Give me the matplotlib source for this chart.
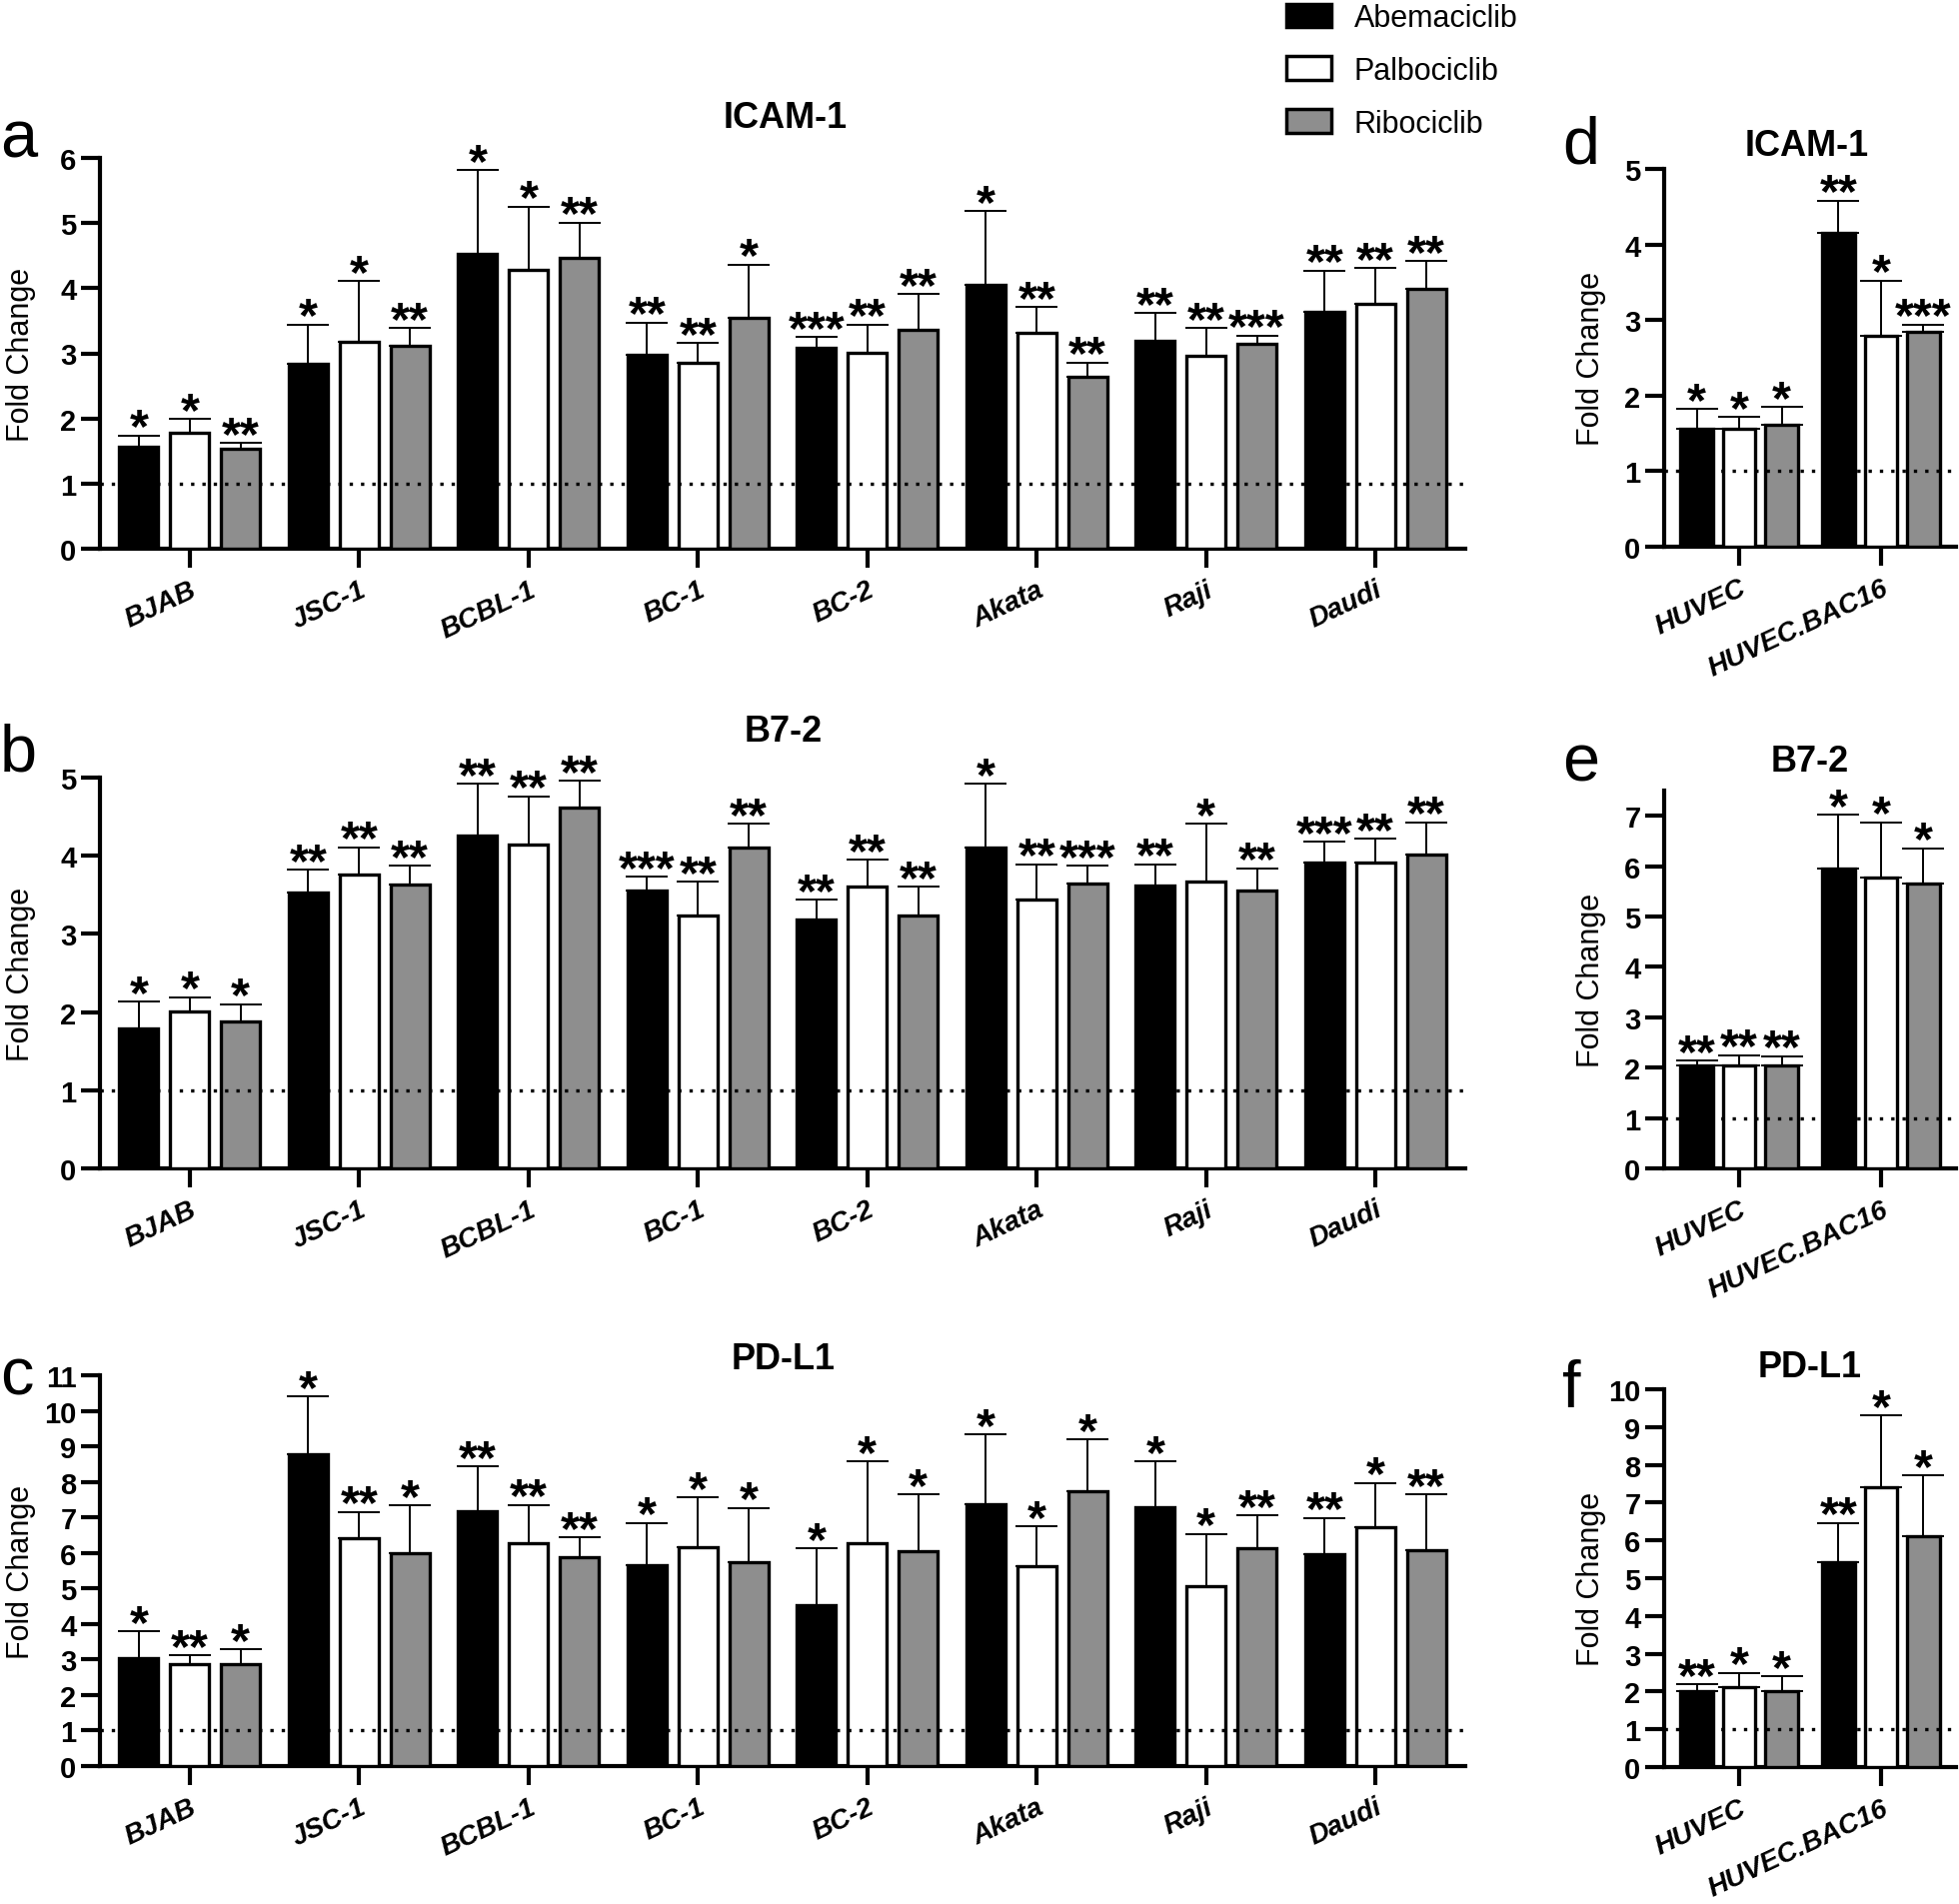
import matplotlib
matplotlib.use('Agg')
import matplotlib.pyplot as plt
import numpy as np
from matplotlib.patches import Patch

plt.rcParams['font.family'] = ['Liberation Sans', 'DejaVu Sans']

W, H = 1960, 1906

drugs = ['Abemaciclib', 'Palbociclib', 'Ribociclib']
bar_colors = ['black', 'white', '#8e8e8e']

b_cells = ['BJAB', 'JSC-1', 'BCBL-1', 'BC-1', 'BC-2', 'Akata', 'Raji', 'Daudi']
endo_cells = ['HUVEC', 'HUVEC.BAC16']

# a: ICAM-1, B cell lines (rows = Abemaciclib, Palbociclib, Ribociclib)
icam_b_mean = [[1.56, 2.84, 4.52, 2.98, 3.08, 4.05, 3.19, 3.64],
               [1.78, 3.17, 4.28, 2.86, 3.01, 3.31, 2.96, 3.76],
               [1.54, 3.12, 4.46, 3.54, 3.36, 2.64, 3.14, 3.99]]
icam_b_err = [[0.18, 0.60, 1.29, 0.49, 0.17, 1.13, 0.43, 0.63],
              [0.21, 0.94, 0.97, 0.30, 0.43, 0.40, 0.43, 0.55],
              [0.08, 0.27, 0.55, 0.82, 0.55, 0.22, 0.13, 0.43]]
icam_b_sig = [['*', '*', '*', '**', '***', '*', '**', '**'],
              ['*', '*', '*', '**', '**', '**', '**', '**'],
              ['**', '**', '**', '*', '**', '**', '***', '**']]

# b: B7-2, B cell lines
b72_b_mean = [[1.79, 3.53, 4.26, 3.56, 3.18, 4.10, 3.62, 3.91],
              [2.01, 3.76, 4.14, 3.24, 3.61, 3.44, 3.67, 3.91],
              [1.88, 3.63, 4.62, 4.11, 3.23, 3.65, 3.55, 4.01]]
b72_b_err = [[0.34, 0.29, 0.66, 0.17, 0.26, 0.82, 0.27, 0.27],
             [0.18, 0.35, 0.62, 0.43, 0.34, 0.45, 0.74, 0.31],
             [0.22, 0.24, 0.34, 0.30, 0.37, 0.22, 0.29, 0.42]]
b72_b_sig = [['*', '**', '**', '***', '**', '*', '**', '***'],
             ['*', '**', '**', '**', '**', '**', '*', '**'],
             ['*', '**', '**', '**', '**', '***', '**', '**']]

# c: PD-L1, B cell lines
pdl1_b_mean = [[3.03, 8.79, 7.17, 5.65, 4.54, 7.37, 7.30, 5.97],
               [2.88, 6.42, 6.27, 6.17, 6.27, 5.64, 5.06, 6.73],
               [2.88, 5.99, 5.88, 5.73, 6.04, 7.74, 6.12, 6.08]]
pdl1_b_err = [[0.76, 1.61, 1.26, 1.20, 1.58, 1.96, 1.28, 1.02],
              [0.24, 0.73, 1.08, 1.39, 2.31, 1.11, 1.47, 1.24],
              [0.40, 1.34, 0.55, 1.53, 1.61, 1.46, 0.94, 1.56]]
pdl1_b_sig = [['*', '*', '**', '*', '*', '*', '*', '**'],
              ['**', '**', '**', '*', '*', '*', '*', '*'],
              ['*', '*', '**', '*', '*', '*', '**', '**']]

# d: ICAM-1, endothelial cells
icam_e_mean = [[1.56, 4.15], [1.56, 2.79], [1.62, 2.84]]
icam_e_err = [[0.26, 0.43], [0.16, 0.73], [0.23, 0.10]]
icam_e_sig = [['*', '**'], ['*', '*'], ['*', '***']]

# e: B7-2, endothelial cells
b72_e_mean = [[2.05, 5.96], [2.05, 5.77], [2.05, 5.66]]
b72_e_err = [[0.09, 1.06], [0.20, 1.10], [0.18, 0.69]]
b72_e_sig = [['**', '*'], ['**', '*'], ['**', '*']]

# f: PD-L1, endothelial cells
pdl1_e_mean = [[2.01, 5.42], [2.11, 7.42], [2.01, 6.12]]
pdl1_e_err = [[0.18, 1.04], [0.39, 1.88], [0.39, 1.60]]
pdl1_e_sig = [['**', '**'], ['*', '*'], ['*', '*']]


def px_rect(left, top, right, bottom):
    return [left / W, 1 - bottom / H, (right - left) / W, (bottom - top) / H]


def fig_text(fig, x, y, s, **kw):
    fig.text(x / W, 1 - y / H, s, **kw)


def draw_panel(fig, rect, cells, means, errs, sigs, ymax, yticks, label_x):
    ax = fig.add_axes(rect)
    x = np.arange(len(cells))
    for k in range(3):
        xs = x + (k - 1) * 0.3
        m = np.array(means[k])
        e = np.array(errs[k])
        ax.errorbar(xs, m, yerr=[np.zeros_like(e), e], fmt='none', ecolor='black',
                    elinewidth=1.4, capsize=15, capthick=1.4, zorder=2)
        ax.bar(xs, m, width=0.23, color=bar_colors[k], edgecolor='black',
               linewidth=2.4, zorder=3)
        for xi, top, s in zip(xs, m + e, sigs[k]):
            ax.annotate(s, (xi, top), xytext=(0, -4), textcoords='offset points',
                        ha='center', va='baseline', fontsize=35, fontweight='bold',
                        zorder=6)
    ax.axhline(1, color='black', lw=2.4, ls=(0, (1, 2.4)), zorder=5)
    ax.set_xlim(-0.53, len(cells) - 1 + 0.53)
    ax.set_ylim(0, ymax)
    ax.set_yticks(yticks)
    ax.set_xticks(x)
    ax.set_xticklabels(cells, rotation=25, ha='right', va='top',
                       rotation_mode='anchor', fontsize=20, fontweight='bold',
                       fontstyle='italic')
    for t in ax.get_yticklabels():
        t.set_fontweight('bold')
        t.set_fontsize(21)
    for side in ['top', 'right']:
        ax.spines[side].set_visible(False)
    for side in ['left', 'bottom']:
        ax.spines[side].set_linewidth(3.0)
    ax.tick_params(axis='y', length=14, width=3.0, pad=3)
    ax.tick_params(axis='x', length=14, width=3.0, pad=6)
    ax.set_ylabel('Fold Change', fontsize=22)
    ax.yaxis.set_label_coords(label_x, 0.5)
    return ax


fig = plt.figure(figsize=(W / 100, H / 100), dpi=100)

draw_panel(fig, px_rect(100, 159, 1466, 550), b_cells, icam_b_mean, icam_b_err,
           icam_b_sig, 6, range(0, 7), -0.047)
draw_panel(fig, px_rect(100, 779, 1466, 1170), b_cells, b72_b_mean, b72_b_err,
           b72_b_sig, 5, range(0, 6), -0.047)
draw_panel(fig, px_rect(100, 1377, 1466, 1768), b_cells, pdl1_b_mean, pdl1_b_err,
           pdl1_b_sig, 11, range(0, 12), -0.047)
draw_panel(fig, px_rect(1665, 170, 1957, 548), endo_cells, icam_e_mean, icam_e_err,
           icam_e_sig, 5, range(0, 6), -0.2)
draw_panel(fig, px_rect(1665, 792, 1957, 1170), endo_cells, b72_e_mean, b72_e_err,
           b72_e_sig, 7.5, range(0, 8), -0.2)
draw_panel(fig, px_rect(1665, 1391, 1957, 1769), endo_cells, pdl1_e_mean, pdl1_e_err,
           pdl1_e_sig, 10, range(0, 11), -0.2)

# panel titles
title_kw = dict(ha='center', va='center', fontsize=26, fontweight='bold')
fig_text(fig, 786, 118, 'ICAM-1', **title_kw)
fig_text(fig, 784, 732, 'B7-2', **title_kw)
fig_text(fig, 784, 1360, 'PD-L1', **title_kw)
fig_text(fig, 1808, 147, 'ICAM-1', **title_kw)
fig_text(fig, 1811, 762, 'B7-2', **title_kw)
fig_text(fig, 1811, 1369, 'PD-L1', **title_kw)

# panel letters
letter_kw = dict(ha='left', va='baseline', fontsize=48)
fig_text(fig, 0, 157, 'a', **letter_kw)
fig_text(fig, 0, 772, 'b', **letter_kw)
fig_text(fig, 0, 1396, 'c', **letter_kw)
fig_text(fig, 1563, 163, 'd', **letter_kw)
fig_text(fig, 1563, 782, 'e', **letter_kw)
fig_text(fig, 1563, 1408, 'f', **letter_kw)

handles = [Patch(facecolor=c, edgecolor='black', linewidth=2.5) for c in bar_colors]
fig.legend(handles, drugs, loc='upper left', bbox_to_anchor=(1287 / W, 1 - 4 / H),
           frameon=False, fontsize=22, handlelength=1.47, handleheight=0.82,
           handletextpad=0.75, labelspacing=0.75, borderpad=0, borderaxespad=0)

fig.savefig('out.png', dpi=100)
